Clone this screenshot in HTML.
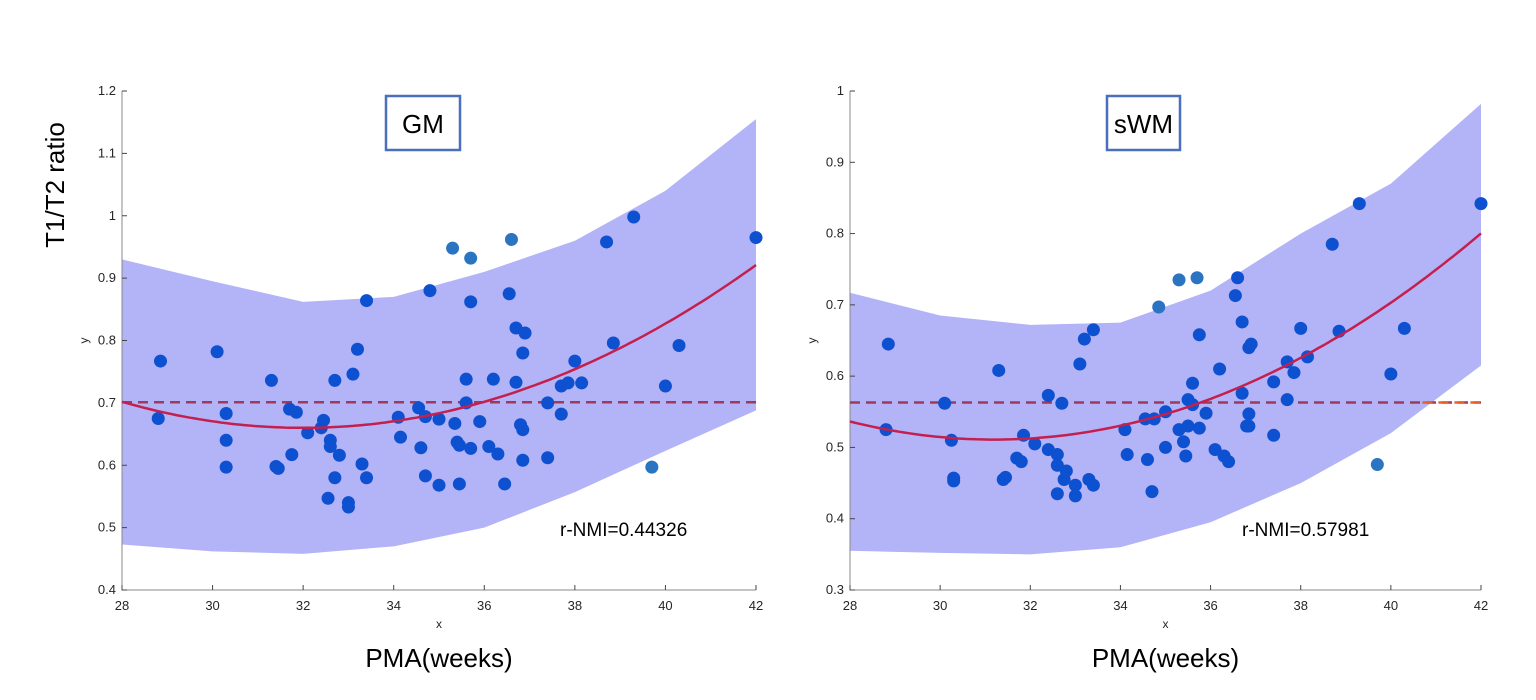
<!DOCTYPE html>
<html><head><meta charset="utf-8"><style>
html,body{margin:0;padding:0;background:#fff;}
svg{display:block;font-family:"Liberation Sans",Arial,sans-serif;}
</style></head><body>
<svg id="chart" width="1536" height="700" viewBox="0 0 1536 700"></svg>
<script>
const xTicks=[28,30,32,34,36,38,40,42];
const gmYTicks=[0.4,0.5,0.6,0.7,0.8,0.9,1,1.1,1.2];
const gmYTickLabels=["0.4","0.5","0.6","0.7","0.8","0.9","1","1.1","1.2"];
const swmYTicks=[0.3,0.4,0.5,0.6,0.7,0.8,0.9,1];
const swmYTickLabels=["0.3","0.4","0.5","0.6","0.7","0.8","0.9","1"];
const pmaX=[28.8,28.85,30.1,30.3,30.3,30.3,31.3,31.4,31.45,31.7,31.75,31.85,32.1,32.4,32.45,32.6,32.6,32.55,32.7,32.7,32.8,33.0,33.0,33.1,33.2,33.3,33.4,33.4,34.1,34.15,34.55,34.6,34.7,34.7,34.8,35.0,35.0,35.3,35.35,35.4,35.45,35.45,35.6,35.6,35.7,35.7,35.7,35.9,36.1,36.2,36.3,36.45,36.55,36.6,36.7,36.7,36.8,36.85,36.85,36.9,36.85,37.4,37.4,37.7,37.7,37.85,38.0,38.15,38.7,38.85,39.3,39.7,40.0,40.3,42];
const gmY=[0.675,0.767,0.782,0.683,0.64,0.597,0.736,0.598,0.595,0.69,0.617,0.685,0.652,0.66,0.672,0.64,0.63,0.547,0.58,0.736,0.616,0.54,0.533,0.746,0.786,0.602,0.58,0.864,0.677,0.645,0.692,0.628,0.583,0.678,0.88,0.568,0.674,0.948,0.667,0.637,0.632,0.57,0.738,0.7,0.932,0.862,0.627,0.67,0.63,0.738,0.618,0.57,0.875,0.962,0.82,0.733,0.665,0.657,0.608,0.812,0.78,0.7,0.612,0.727,0.682,0.732,0.767,0.732,0.958,0.796,0.998,0.597,0.727,0.792,0.965];
const swmPmaX=[28.8,28.85,30.1,30.25,30.3,30.3,31.3,31.4,31.45,31.7,31.8,31.85,32.1,32.4,32.4,32.6,32.6,32.6,32.7,32.75,32.8,33.0,33.0,33.1,33.2,33.3,33.4,33.4,34.1,34.15,34.55,34.6,34.7,34.75,34.85,35.0,35.0,35.3,35.3,35.4,35.45,35.5,35.5,35.6,35.6,35.7,35.75,35.75,35.9,36.1,36.2,36.3,36.4,36.55,36.6,36.7,36.7,36.8,36.85,36.85,36.9,36.85,37.4,37.4,37.7,37.7,37.85,38.0,38.15,38.7,38.85,39.3,39.7,40.0,40.3,42];
const swmY=[0.525,0.645,0.562,0.51,0.457,0.453,0.608,0.455,0.458,0.485,0.48,0.517,0.505,0.573,0.497,0.435,0.49,0.475,0.562,0.455,0.467,0.447,0.432,0.617,0.652,0.455,0.665,0.447,0.525,0.49,0.54,0.483,0.438,0.54,0.697,0.55,0.5,0.735,0.525,0.508,0.488,0.567,0.53,0.59,0.56,0.738,0.658,0.527,0.548,0.497,0.61,0.488,0.48,0.713,0.738,0.676,0.576,0.53,0.547,0.64,0.645,0.53,0.592,0.517,0.62,0.567,0.605,0.667,0.627,0.785,0.663,0.842,0.476,0.603,0.667,0.842];
const bandX=[28,30,32,34,36,38,40,42];
const gmUpper=[0.93,0.895,0.862,0.87,0.91,0.96,1.04,1.155];
const gmLower=[0.473,0.462,0.458,0.47,0.5,0.557,0.623,0.688];
const swmUpper=[0.717,0.685,0.672,0.675,0.72,0.8,0.87,0.982];
const swmLower=[0.355,0.352,0.35,0.36,0.395,0.45,0.52,0.615];
const gmFit=[0.66,32,0.00261]; // min value, vertex x, curvature
const swmFit=[0.511,31.2,0.00248];
const gmMean=[0.701];
const swmMean=[0.563];
const labels=["GM","sWM"];
const nmi=["r-NMI=0.44326","r-NMI=0.57981"];

const NS="http://www.w3.org/2000/svg";
const svg=document.getElementById('chart');
function mk(tag,attrs,parent){const e=document.createElementNS(NS,tag);for(const k in attrs)e.setAttribute(k,attrs[k]);(parent||svg).appendChild(e);return e;}

function panel(cfg){
  const g=mk('g',{});
  
  
  const sx=v=>cfg.x0+(v-28)/14*(cfg.x1-cfg.x0);
  const sy=v=>cfg.yb-(v-cfg.ymin)/(cfg.ymax-cfg.ymin)*(cfg.yb-cfg.yt);
  // band
  let d='';
  bandX.forEach((x,i)=>{d+=(i?'L':'M')+sx(x)+','+sy(cfg.upper[i]);});
  for(let i=bandX.length-1;i>=0;i--)d+='L'+sx(bandX[i])+','+sy(cfg.lower[i]);
  const band=mk('path',{d:d+'Z',fill:'#b3b3f7',stroke:'none'},g);
  
  
  // axes
  const ax=mk('path',{d:`M${cfg.x0},${cfg.yt}V${cfg.yb}H${cfg.x1}`,fill:'none',stroke:'#8a8a8a','stroke-width':1},g);
  
  
  xTicks.forEach(t=>{
    mk('line',{x1:sx(t),x2:sx(t),y1:cfg.yb,y2:cfg.yb-5,stroke:'#444'},g);
    const tl=mk('text',{x:sx(t),y:cfg.yb+20,'text-anchor':'middle','font-size':13,fill:'#262626'},g);
    tl.textContent=t;
    
    
  });
  cfg.yticks.forEach((t,i)=>{
    mk('line',{x1:cfg.x0,x2:cfg.x0+5,y1:sy(t),y2:sy(t),stroke:'#444'},g);
    const tl=mk('text',{x:cfg.x0-6,y:sy(t)+4,'text-anchor':'end','font-size':13,fill:'#262626'},g);
    tl.textContent=cfg.ylabels[i];
    
    
  });
  // mean dashed
  const m=mk('line',{x1:cfg.x0,x2:cfg.x1,y1:sy(cfg.mean[0]),y2:sy(cfg.mean[0]),stroke:'#9e3a5c','stroke-width':2.5,'stroke-dasharray':'10,6'},g);
  
  
  if(cfg.orangeFrom){
    const o=mk('line',{x1:sx(cfg.orangeFrom),x2:cfg.x1,y1:sy(cfg.mean[0]),y2:sy(cfg.mean[0]),stroke:'#e8622a','stroke-width':2.5,'stroke-dasharray':'10,6'},g);
    
    
  }
  // points
  cfg.px.forEach((x,i)=>{
    const c=mk('circle',{cx:sx(x),cy:sy(cfg.py[i]),r:6.5,fill:(cfg.py[i]>cfg.upperAt(x)||cfg.py[i]<cfg.lowerAt(x))?'#2a74c2':'#0d50d0'},g);
    
    
  });
  // fit
  let fd='';
  for(let i=0;i<=140;i++){const x=28+i*0.1;const y=cfg.fit[0]+cfg.fit[2]*(x-cfg.fit[1])**2;fd+=(i?'L':'M')+sx(x).toFixed(1)+','+sy(y).toFixed(1);}
  const f=mk('path',{d:fd,fill:'none',stroke:'#c4204f','stroke-width':2.5},g);
  
  
  // labels
  const yl=mk('text',{x:cfg.x0-34,y:(cfg.yt+cfg.yb)/2,'font-size':12,fill:'#262626','text-anchor':'middle',transform:`rotate(-90 ${cfg.x0-34} ${(cfg.yt+cfg.yb)/2})`},g);
  yl.textContent='y';
  
  
  const xl=mk('text',{x:(cfg.x0+cfg.x1)/2,y:cfg.yb+38,'font-size':12,fill:'#262626','text-anchor':'middle'},g);
  xl.textContent='x';
  
  
  const pm=mk('text',{x:(cfg.x0+cfg.x1)/2,y:cfg.yb+77,'font-size':26,fill:'#000','text-anchor':'middle'},g);
  pm.textContent='PMA(weeks)';
  
  
  const bx=mk('rect',{x:cfg.boxX,y:96,width:cfg.boxW,height:54,fill:'#fff',stroke:'#4a6fbd','stroke-width':2.5},g);
  
  
  const bt=mk('text',{x:cfg.boxX+cfg.boxW/2,y:133,'font-size':26,fill:'#000','text-anchor':'middle'},g);
  bt.textContent=cfg.label;
  
  
  const nt=mk('text',{x:cfg.nmiX,y:536,'font-size':19,fill:'#000'},g);
  nt.textContent=cfg.nmi;
  
  
}
function interp(arr){return x=>{for(let i=0;i<bandX.length-1;i++){if(x<=bandX[i+1]){const t=(x-bandX[i])/(bandX[i+1]-bandX[i]);return arr[i]+t*(arr[i+1]-arr[i]);}}return arr[arr.length-1];};}
panel({name:'gm',x0:122,x1:756,yt:91,yb:590,ymin:0.4,ymax:1.2,upper:gmUpper,lower:gmLower,yticks:gmYTicks,ylabels:gmYTickLabels,mean:gmMean,px:pmaX,py:gmY,fit:gmFit,label:labels[0],nmi:nmi[0],boxX:386,boxW:74,nmiX:560,upperAt:interp(gmUpper),lowerAt:interp(gmLower)});
panel({name:'swm',x0:850,x1:1481,yt:91,yb:590,ymin:0.3,ymax:1.0,upper:swmUpper,lower:swmLower,yticks:swmYTicks,ylabels:swmYTickLabels,mean:swmMean,px:swmPmaX,py:swmY,fit:swmFit,label:labels[1],nmi:nmi[1],boxX:1107,boxW:73,nmiX:1242,orangeFrom:40.7,upperAt:interp(swmUpper),lowerAt:interp(swmLower)});
const yt=mk('text',{x:64,y:185,'font-size':26,fill:'#000','text-anchor':'middle',transform:'rotate(-90 64 185)'});
yt.textContent='T1/T2 ratio';


</script>
</body></html>
